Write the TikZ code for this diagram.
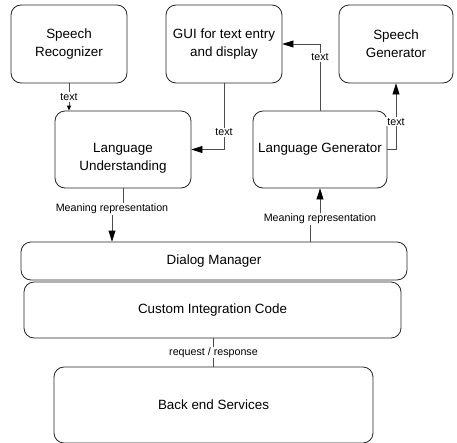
\documentclass[tikz,border=0pt]{standalone}
\usepackage{fontspec}
\setmainfont{Liberation Sans}
\usetikzlibrary{arrows.meta}

\tikzset{
    blockbox/.style={draw=black!85, line width=0.8pt, rounded corners=10pt, align=center,
                     inner sep=0pt, font=\fontsize{13.4}{18}\selectfont},
    blocktext/.style={align=center, inner sep=0pt, font=\fontsize{13.4}{18}\selectfont},
    flow/.style={draw=black!70, line width=0.8pt},
    flowlabel/.style={fill=white, inner sep=1pt, font=\fontsize{10.7}{12}\selectfont},
    bigarrow/.style={-{Triangle[length=11pt, width=7pt, black]}},
    smallarrow/.style={-{Triangle[length=5pt, width=4pt, black]}}
}

\begin{document}
\begin{tikzpicture}[x=1pt, y=-1pt]
    \useasboundingbox (0,0) rectangle (457,442);
    \def\tb{44}; \def\mb{149.5}

    % top row
    \node[blockbox, minimum width=116, minimum height=78] (sr) at (69, \tb) {Speech\\Recognizer};
    \node[blockbox, minimum width=116, minimum height=78] (gui) at (224, \tb) {GUI for text entry\\and display};
    \node[blockbox, minimum width=114, minimum height=78] (sg) at (396, \tb) {Speech\\Generator};

    % middle row
    \node[blockbox, minimum width=136, minimum height=77] (lu) at (123, \mb) {};
    \node[blocktext, yshift=-8.5pt] (lutext) at (lu.center) {Language\\Understanding};
    \node[blockbox, minimum width=134, minimum height=77] (lg) at (320, \mb) {Language Generator};

    % lower blocks
    \node[blockbox, minimum width=386, minimum height=38] (dm) at (214, 261) {Dialog Manager};
    \node[blockbox, minimum width=377, minimum height=56] (cic) at (212.5, 310) {Custom Integration Code};
    \node[blockbox, minimum width=319, minimum height=76] (be) at (213.5, 405) {Back end Services};

    % text connectors
    \draw[flow, smallarrow] (sr.south) -- node[flowlabel] {text} (lu.north -| sr.south);
    \draw[flow, bigarrow] (gui.south) |- node[flowlabel, pos=0.37] {text} (lu.east);
    \draw[flow, bigarrow] (lg.north) |- node[flowlabel, pos=0.4] {text} (gui.east);
    \draw[flow, bigarrow] (lg.east) -| node[flowlabel, pos=0.71] {text} (sg.south);

    % meaning representation
    \node[flowlabel] (mr1) at (112, 209) {Meaning representation};
    \draw[flow] (lu.south) -- (lu.south |- mr1.north);
    \draw[flow, bigarrow] (mr1.south) -- (mr1.south |- dm.north);

    \node[flowlabel] (mr2) at (320, 219) {Meaning representation};
    \coordinate (dmout) at (310, 242);
    \draw[flow] (dmout) -- (dmout |- mr2.south);
    \draw[flow, bigarrow] (mr2.north) -- (lg.south);

    % back end
    \draw[flow] (cic.south -| be.north) -- node[flowlabel] {request / response} (be.north);
\end{tikzpicture}
\end{document}
